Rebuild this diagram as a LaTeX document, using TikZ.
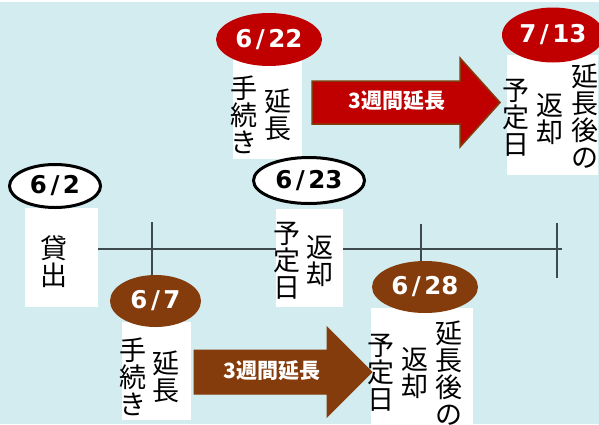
\documentclass[tikz,border=0pt]{standalone}
\usepackage{fontspec}
\usetikzlibrary{shapes.geometric}
\newfontfamily\jp{Noto Sans CJK JP}
\newfontfamily\dv{DejaVu Sans}
\definecolor{bg}{RGB}{210,236,240}
\definecolor{dred}{RGB}{192,0,0}
\definecolor{brn}{RGB}{132,60,12}
\definecolor{tline}{RGB}{63,74,79}
\newcommand{\dt}[2]{#1\kern3.5pt/\kern3.5pt#2}
\tikzset{
  datebase/.style={ellipse, inner sep=0pt, font=\dv\bfseries\fontsize{24.5}{24.5}\selectfont},
  datewhite/.style={datebase, draw=black, line width=3pt, fill=white, text=black},
  datered/.style={datebase, fill=dred, text=white},
  datebrown/.style={datebase, fill=brn, text=white},
  card/.style={rectangle, fill=white, inner sep=0pt},
  vcol/.style={font=\jp\fontsize{27}{27}\selectfont, align=center, inner sep=0pt, text=black},
  tl/.style={draw=tline, line width=2pt},
  tick/.style={draw=tline, line width=1.6pt},
  arrtext/.style={font=\jp\bfseries\fontsize{21}{21}\selectfont, text=white, inner sep=0pt}
}
\begin{document}
\begin{tikzpicture}[x=1pt,y=-1pt]
\useasboundingbox (0,0) rectangle (599,424);
\fill[white] (0,0) rectangle (599,424);
\fill[bg] (0,2) rectangle (599,424);

% timeline
\coordinate (t0) at (98,249);
\coordinate (t1) at (562,249);
\draw[tl] (t0) -- (t1);
\coordinate (k1a) at (152,222); \coordinate (k1b) at (152,290);
\coordinate (k2a) at (421,224); \coordinate (k2b) at (421,275);
\coordinate (k3a) at (557,223); \coordinate (k3b) at (557,278);
\draw[tick] (k1a) -- (k1b);
\draw[tick] (k2a) -- (k2b);
\draw[tick] (k3a) -- (k3b);

% cards
\node[card, minimum width=73pt, minimum height=99pt] (c62) at (61.5,257.5) {};
\node[card, minimum width=67pt, minimum height=98pt] (c623) at (309.5,258) {};
\node[card, minimum width=69pt, minimum height=99pt] (c622) at (267.5,109.5) {};
\node[card, minimum width=91pt, minimum height=120pt] (c713) at (552.5,115) {};
\node[card, minimum width=69pt, minimum height=98pt] (c67) at (156.5,371) {};
\node[card, minimum width=102pt, minimum height=118pt] (c628) at (422,367) {};

% vertical texts
\node[vcol] (x62) at (54,262) {貸\\出};
\node[vcol] (x623a) at (287,261) {予\\定\\日};
\node[vcol] (x623b) at (320,261) {返\\却};
\node[vcol] (x622a) at (244,115) {手\\続\\き};
\node[vcol] (x622b) at (278,115) {延\\長};
\node[vcol] (x713a) at (516,118) {予\\定\\日};
\node[vcol] (x713b) at (550,119) {返\\却};
\node[vcol] (x713c) at (585,116) {延\\長\\後\\の};
\node[vcol] (x67a) at (133,377) {手\\続\\き};
\node[vcol] (x67b) at (166,377) {延\\長};
\node[vcol] (x628a) at (381,373) {予\\定\\日};
\node[vcol] (x628b) at (415,373) {返\\却};
\node[vcol] (x628c) at (449,373) {延\\長\\後\\の};

% dates
\node[datewhite, minimum width=91pt, minimum height=43pt] (d62) at (55,186) {\dt{6}{2}};
\node[datewhite, minimum width=111pt, minimum height=46pt] (d623) at (309,180.5) {\dt{6}{23}};
\node[datered, minimum width=106pt, minimum height=53pt] (d622) at (269,39.5) {\dt{6}{22}};
\node[datered, minimum width=102pt, minimum height=55pt] (d713) at (553,35) {\dt{7}{13}};
\node[datebrown, minimum width=91pt, minimum height=52pt] (d67) at (155.5,301) {\dt{6}{7}};
\node[datebrown, minimum width=106pt, minimum height=52pt] (d628) at (425,287) {\dt{6}{28}};

% arrows
\draw[fill=dred, draw=brn, line width=1.5pt, line join=miter]
  (312,81) -- (460,81) -- (460,58) -- (500,102.5) -- (460,147) -- (460,124) -- (312,124) -- cycle;
\node[arrtext] (a1) at (397,101) {3週間延長};
\draw[fill=brn, draw=brn, line width=1pt, line join=miter]
  (194,350) -- (327,350) -- (327,327) -- (372,372) -- (327,417) -- (327,394) -- (194,394) -- cycle;
\node[arrtext] (a2) at (272,371) {3週間延長};
\end{tikzpicture}
\end{document}
